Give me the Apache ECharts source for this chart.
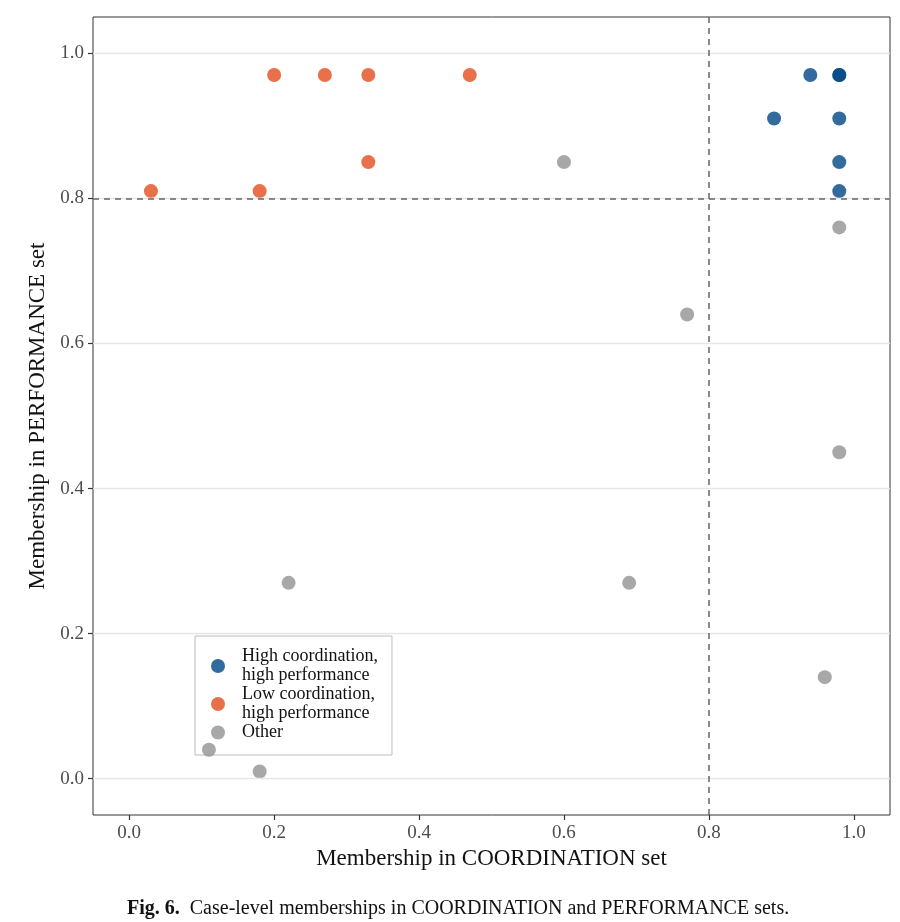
<!DOCTYPE html>
<html>
<head>
<meta charset="utf-8">
<script src="https://cdn.jsdelivr.net/npm/echarts@6/dist/echarts.min.js"></script>
<style>
  html, body { margin: 0; padding: 0; background: #fff; }
  #main { width: 900px; height: 922px; }
</style>
</head>
<body>
<div id="main"></div>
<script>
  // values: [coordination, performance]
  let highHigh = [
    [0.94, 0.97], [0.98, 0.97], [0.98, 0.97],
    [0.89, 0.91], [0.98, 0.91],
    [0.98, 0.85], [0.98, 0.81]
  ]
  let lowHigh = [
    [0.20, 0.97], [0.27, 0.97], [0.33, 0.97], [0.47, 0.97],
    [0.33, 0.85], [0.03, 0.81], [0.18, 0.81]
  ]
  let other = [
    [0.60, 0.85], [0.98, 0.76], [0.77, 0.64], [0.98, 0.45],
    [0.22, 0.27], [0.69, 0.27], [0.96, 0.14], [0.11, 0.04], [0.18, 0.01]
  ]
  let tickValues = [0, 0.2, 0.4, 0.6, 0.8, 1.0]
  let threshold = 0.8
  let seriesNames = ['High coordination,\nhigh performance', 'Low coordination,\nhigh performance', 'Other']
  let seriesColors = ['#004686', '#E24C1D', '#929292']

  let font = 'Liberation Serif'
  let chart = echarts.init(document.getElementById('main'))

  let axisBase = {
    type: 'value',
    min: -0.05,
    max: 1.05,
    nameLocation: 'middle',
    nameTextStyle: { fontFamily: font, fontSize: 23, color: '#111' },
    axisLine: { show: false, onZero: false },
    axisTick: { show: true, length: 5, customValues: tickValues, lineStyle: { color: '#333', width: 1.2 } },
    axisLabel: {
      customValues: tickValues,
      fontFamily: font, fontSize: 19, color: '#4d4d4d', margin: 9,
      formatter: v => v.toFixed(1)
    },
    splitLine: { show: false }
  }

  let scatter = (name, data, color) => ({
    type: 'scatter',
    name: name,
    data: data,
    z: 4,
    symbolSize: 14,
    itemStyle: { color: color, opacity: 0.8 },
    emphasis: { disabled: true }
  })

  chart.setOption({
    animation: false,
    title: {
      text: '{b|Fig. 6.}  {n|Case-level memberships in COORDINATION and PERFORMANCE sets.}',
      left: 122,
      top: 894,
      textStyle: {
        rich: {
          b: { fontFamily: font, fontSize: 20, fontWeight: 'bold', color: '#111' },
          n: { fontFamily: font, fontSize: 20, fontWeight: 'normal', color: '#111' }
        }
      }
    },
    grid: {
      left: 93, right: 10, top: 17, bottom: 107,
      show: true, borderColor: '#333', borderWidth: 1, backgroundColor: '#fff'
    },
    legend: {
      orient: 'vertical',
      left: 195,
      top: 636,
      data: seriesNames,
      icon: 'circle',
      itemWidth: 14,
      itemHeight: 14,
      itemGap: 0,
      padding: [11, 14, 13, 16],
      backgroundColor: '#fff',
      borderColor: '#bbb',
      borderWidth: 1,
      borderRadius: 0,
      textStyle: { fontFamily: font, fontSize: 18, color: '#111', lineHeight: 19, padding: [0, 0, 0, 12] }
    },
    xAxis: Object.assign({}, axisBase, {
      name: 'Membership in COORDINATION set',
      nameGap: 32
    }),
    yAxis: Object.assign({}, axisBase, {
      name: 'Membership in PERFORMANCE set',
      nameGap: 44
    }),
    series: [
      // horizontal grid lines at the tick values
      {
        type: 'scatter',
        data: [],
        silent: true,
        markLine: {
          silent: true,
          symbol: 'none',
          label: { show: false },
          animation: false,
          lineStyle: { color: '#e6e6e6', width: 1.3, type: 'solid' },
          data: tickValues.map(v => ({ yAxis: v }))
        }
      },
      // threshold lines
      {
        type: 'scatter',
        data: [],
        silent: true,
        z: 3,
        markLine: {
          silent: true,
          symbol: 'none',
          label: { show: false },
          animation: false,
          lineStyle: { color: '#666', width: 1.5, type: [6, 5] },
          data: [{ xAxis: threshold }, { yAxis: threshold }]
        }
      },
      scatter(seriesNames[0], highHigh, seriesColors[0]),
      scatter(seriesNames[1], lowHigh, seriesColors[1]),
      scatter(seriesNames[2], other, seriesColors[2])
    ]
  })
</script>
</body>
</html>
